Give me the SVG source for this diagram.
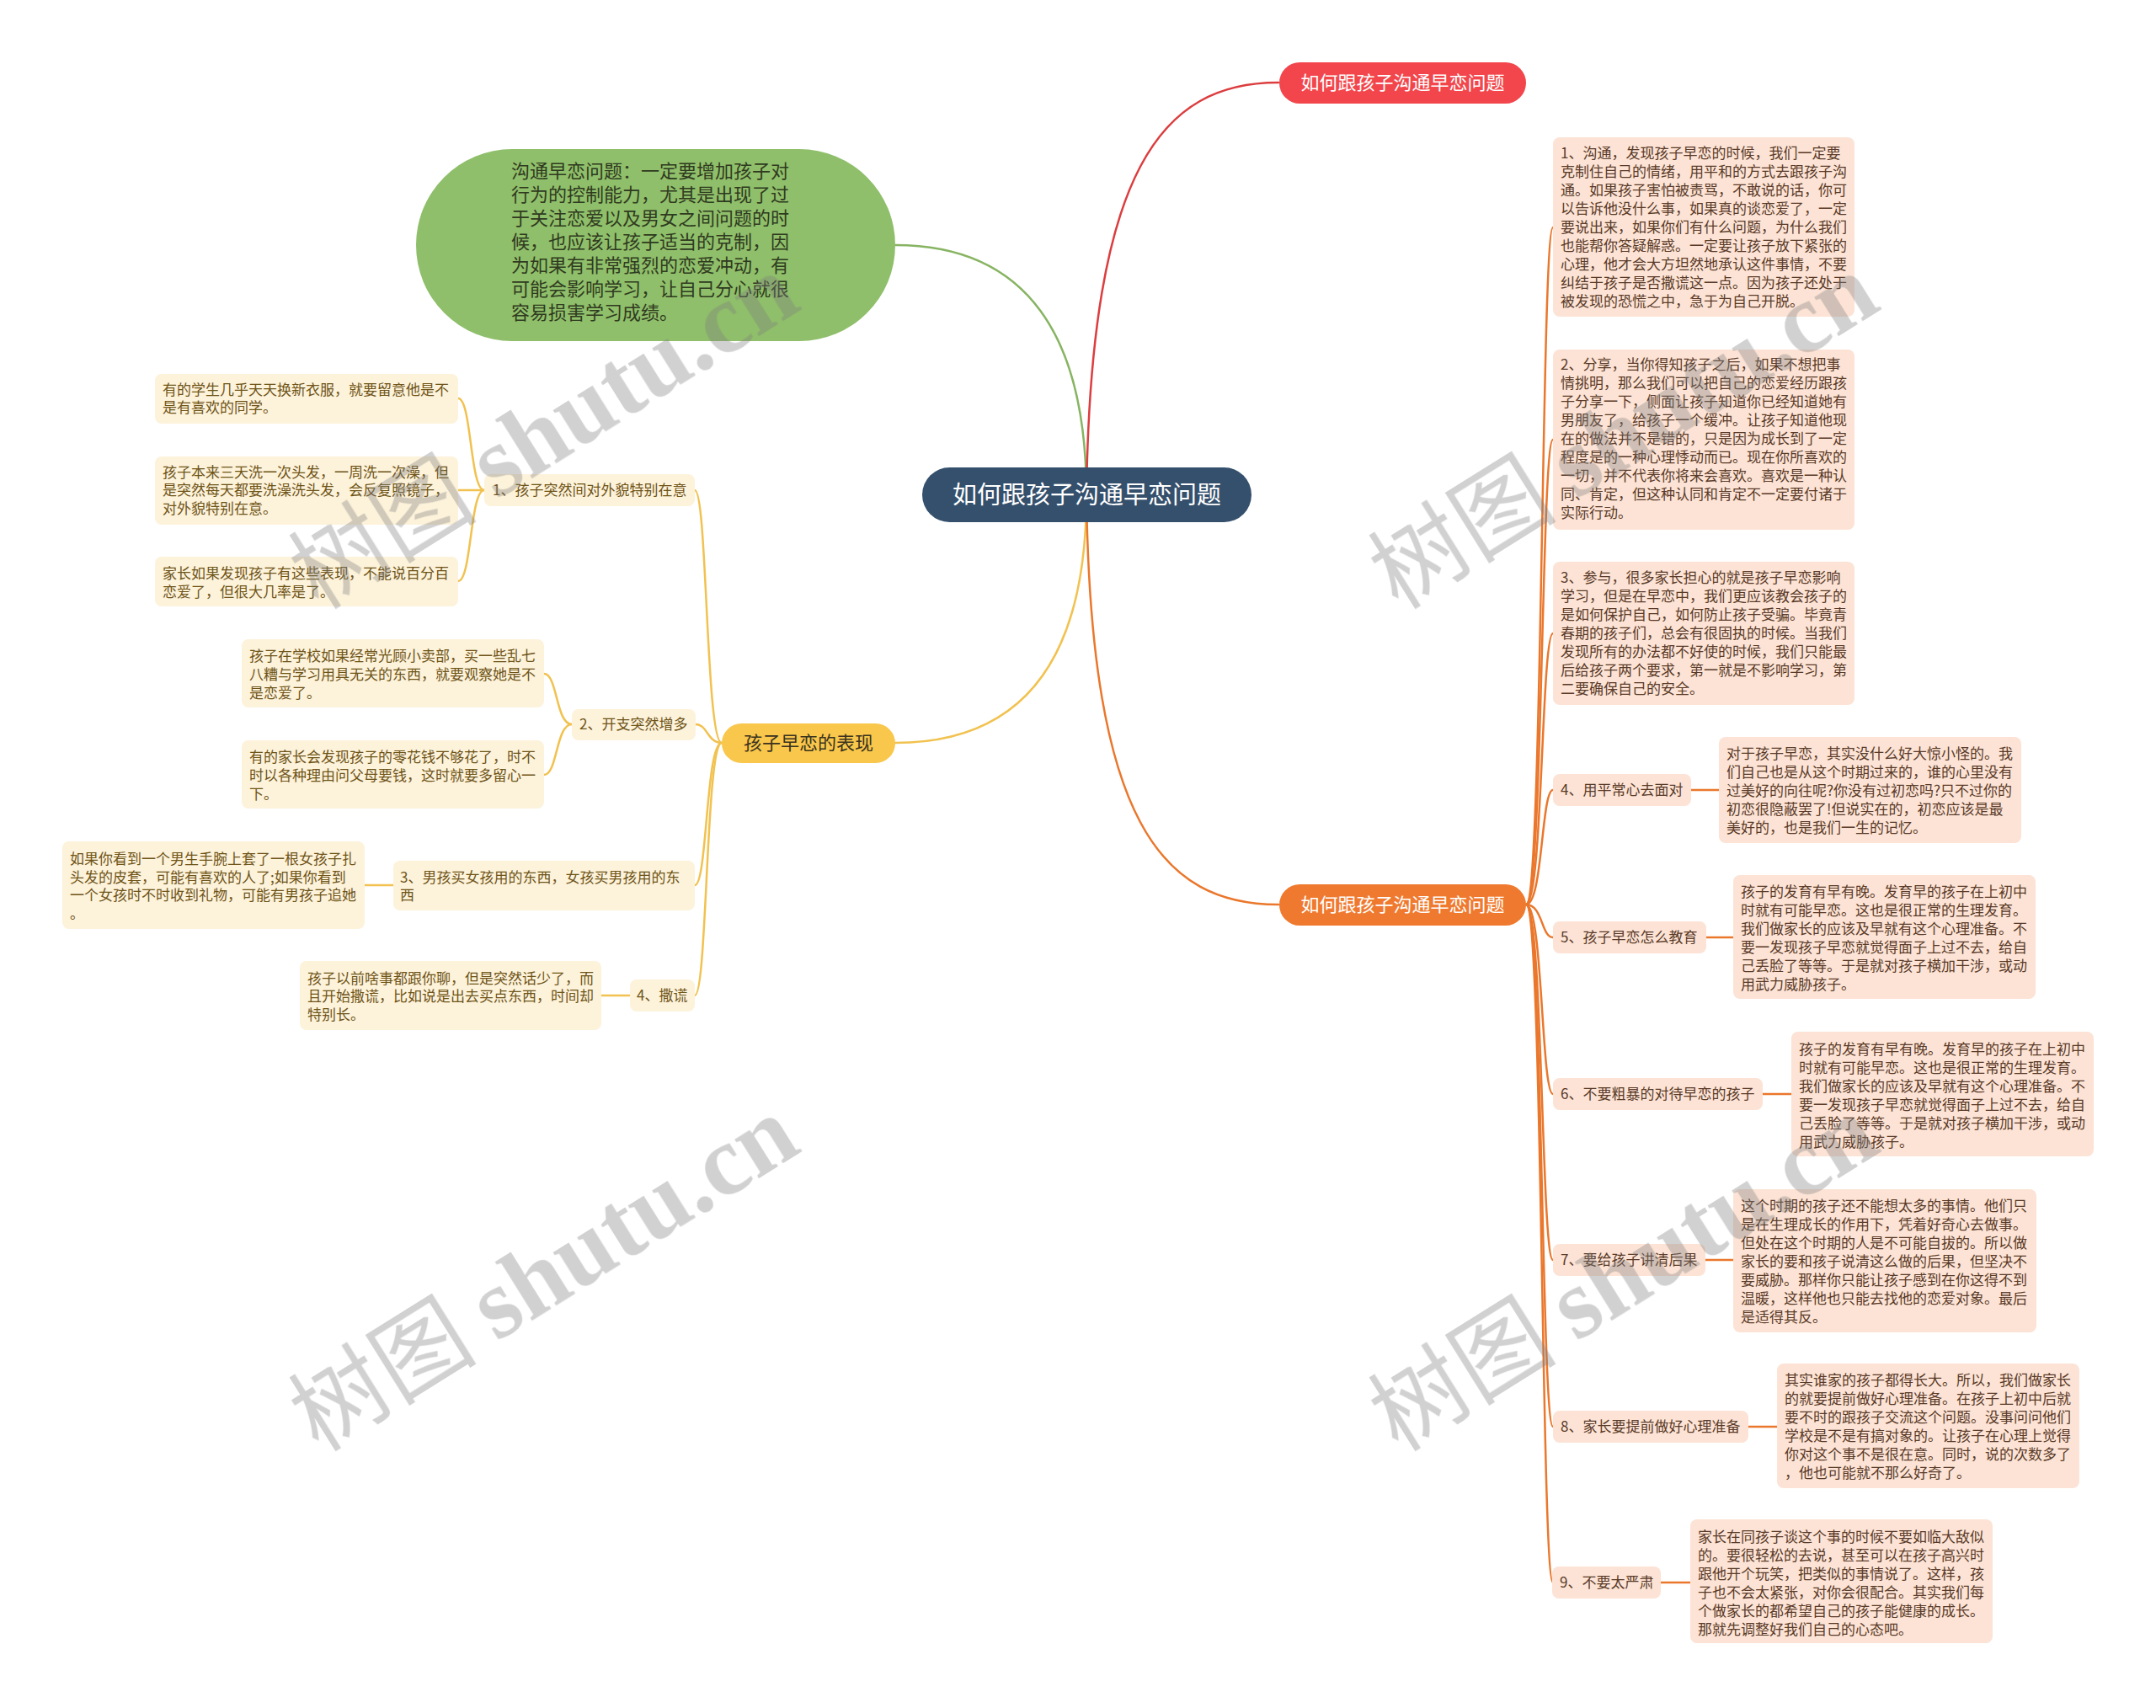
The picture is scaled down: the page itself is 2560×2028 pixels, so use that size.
<svg xmlns="http://www.w3.org/2000/svg" width="2560" height="2028" viewBox="0 0 2560 2028">
<style>
text{font-family:"Noto Sans CJK SC","Liberation Sans",sans-serif}
.c{fill:none;stroke-width:2.5;stroke-linecap:round}
.cg{stroke:#87b462}.cr{stroke:#dc3d3f}.cy{stroke:#f1c250}.co{stroke:#ea772c}
.ly{fill:#fdf2da}.lo{fill:#fce3d5}
.ty{font-size:17px;fill:#6e5418}
.to{font-size:17px;fill:#5a3a28}
.wm{fill:#7f7f7f;opacity:.36}
</style>
<rect width="2560" height="2028" fill="#fff"/>
<g id="connectors">
<path class="c cg" d="M1290,588 C1290,400 1220,291 1063,291"/>
<path class="c cr" d="M1290,588 C1295,200 1380,98 1518,98"/>
<path class="c cy" d="M1290,588 C1290,776 1220,882 1063,882"/>
<path class="c co" d="M1290,588 C1295,976 1380,1074 1518,1074"/>
<path class="c cy" d="M857,882 C838,882 840,582 825,582"/>
<path class="c cy" d="M857,882 C840,882 840,860 826,860"/>
<path class="c cy" d="M857,882 C838,882 840,1051 825,1051"/>
<path class="c cy" d="M857,882 C838,882 840,1182 825,1182"/>
<path class="c cy" d="M575,582 C558,582 560,473 544,473"/>
<path class="c cy" d="M575,582 L544,582"/>
<path class="c cy" d="M575,582 C558,582 560,690 544,690"/>
<path class="c cy" d="M679,860 C660,860 662,800 646,800"/>
<path class="c cy" d="M679,860 C660,860 662,920 646,920"/>
<path class="c cy" d="M433,1051 L467,1051"/>
<path class="c cy" d="M714,1182 L748,1182"/>
<path class="c co" d="M1812,1074 C1832,1074 1830,270 1844,270"/>
<path class="c co" d="M1812,1074 C1832,1074 1830,522 1844,522"/>
<path class="c co" d="M1812,1074 C1832,1074 1830,752 1844,752"/>
<path class="c co" d="M1812,1074 C1832,1074 1830,938 1844,938"/>
<path class="c co" d="M1812,1074 C1832,1074 1830,1113 1844,1113"/>
<path class="c co" d="M1812,1074 C1832,1074 1830,1299 1844,1299"/>
<path class="c co" d="M1812,1074 C1832,1074 1830,1496 1844,1496"/>
<path class="c co" d="M1812,1074 C1832,1074 1830,1694 1844,1694"/>
<path class="c co" d="M1812,1074 C1832,1074 1830,1879 1844,1879"/>
<path class="c co" d="M2008,938 L2041,938"/>
<path class="c co" d="M2026,1113 L2058,1113"/>
<path class="c co" d="M2093,1299 L2127,1299"/>
<path class="c co" d="M2025,1496 L2058,1496"/>
<path class="c co" d="M2076,1694 L2110,1694"/>
<path class="c co" d="M1972,1879 L2007,1879"/>
</g>
<g id="root">
<rect x="1095" y="555" width="391" height="65" rx="32.5" fill="#35506c"/>
<text x="1290.5" y="598" font-size="29" fill="#fff" text-anchor="middle">如何跟孩子沟通早恋问题</text>
</g>
<g id="red-topic">
<rect x="1519" y="74" width="293" height="49" rx="24.5" fill="#f2464c"/>
<text x="1665.5" y="106" font-size="22" fill="#fff" text-anchor="middle">如何跟孩子沟通早恋问题</text>
</g>
<g id="orange-topic">
<rect x="1519" y="1050" width="293" height="49" rx="24.5" fill="#ef7a2f"/>
<text x="1665.5" y="1082" font-size="22" fill="#fff" text-anchor="middle">如何跟孩子沟通早恋问题</text>
</g>
<g id="green-topic">
<rect x="494" y="177" width="569" height="228" rx="114" fill="#8fbf6a"/>
<text font-size="22" fill="#2f3a20">
<tspan x="607" y="211">沟通早恋问题：一定要增加孩子对</tspan>
<tspan x="607" y="239">行为的控制能力，尤其是出现了过</tspan>
<tspan x="607" y="267">于关注恋爱以及男女之间问题的时</tspan>
<tspan x="607" y="295">候，也应该让孩子适当的克制，因</tspan>
<tspan x="607" y="323">为如果有非常强烈的恋爱冲动，有</tspan>
<tspan x="607" y="351">可能会影响学习，让自己分心就很</tspan>
<tspan x="607" y="379">容易损害学习成绩。</tspan>
</text>
</g>
<g id="yellow-topic">
<rect x="857" y="859" width="206" height="47" rx="23.5" fill="#f8c74b"/>
<text x="960" y="890" font-size="22" fill="#3b3320" text-anchor="middle">孩子早恋的表现</text>
</g>
<g id="y-label1">
<rect class="ly" x="575" y="563" width="250" height="38" rx="8"/>
<text class="ty" x="585" y="588">1、孩子突然间对外貌特别在意</text>
</g>
<g id="y-leaf1a">
<rect class="ly" x="184" y="444" width="360" height="59" rx="8"/>
<text class="ty"><tspan x="193" y="469">有的学生几乎天天换新衣服，就要留意他是不</tspan><tspan x="193" y="490">是有喜欢的同学。</tspan></text>
</g>
<g id="y-leaf1b">
<rect class="ly" x="184" y="542" width="360" height="81" rx="8"/>
<text class="ty"><tspan x="193" y="567">孩子本来三天洗一次头发，一周洗一次澡，但</tspan><tspan x="193" y="588">是突然每天都要洗澡洗头发，会反复照镜子，</tspan><tspan x="193" y="610">对外貌特别在意。</tspan></text>
</g>
<g id="y-leaf1c">
<rect class="ly" x="184" y="661" width="360" height="59" rx="8"/>
<text class="ty"><tspan x="193" y="687">家长如果发现孩子有这些表现，不能说百分百</tspan><tspan x="193" y="709">恋爱了，但很大几率是了。</tspan></text>
</g>
<g id="y-label2">
<rect class="ly" x="679" y="842" width="147" height="37" rx="8"/>
<text class="ty" x="688" y="866">2、开支突然增多</text>
</g>
<g id="y-leaf2a">
<rect class="ly" x="287" y="759" width="359" height="81" rx="8"/>
<text class="ty"><tspan x="296" y="785">孩子在学校如果经常光顾小卖部，买一些乱七</tspan><tspan x="296" y="807">八糟与学习用具无关的东西，就要观察她是不</tspan><tspan x="296" y="829">是恋爱了。</tspan></text>
</g>
<g id="y-leaf2b">
<rect class="ly" x="287" y="879" width="359" height="81" rx="8"/>
<text class="ty"><tspan x="296" y="905">有的家长会发现孩子的零花钱不够花了，时不</tspan><tspan x="296" y="927">时以各种理由问父母要钱，这时就要多留心一</tspan><tspan x="296" y="949">下。</tspan></text>
</g>
<g id="y-label3">
<rect class="ly" x="467" y="1022" width="358" height="59" rx="8"/>
<text class="ty"><tspan x="475" y="1048">3、男孩买女孩用的东西，女孩买男孩用的东</tspan><tspan x="475" y="1069">西</tspan></text>
</g>
<g id="y-leaf3">
<rect class="ly" x="74" y="999" width="359" height="104" rx="8"/>
<text class="ty"><tspan x="83" y="1026">如果你看到一个男生手腕上套了一根女孩子扎</tspan><tspan x="83" y="1048">头发的皮套，可能有喜欢的人了;如果你看到</tspan><tspan x="83" y="1069">一个女孩时不时收到礼物，可能有男孩子追她</tspan><tspan x="83" y="1091">。</tspan></text>
</g>
<g id="y-label4">
<rect class="ly" x="748" y="1163" width="77" height="38" rx="8"/>
<text class="ty" x="756" y="1188">4、撒谎</text>
</g>
<g id="y-leaf4">
<rect class="ly" x="356" y="1141" width="358" height="82" rx="8"/>
<text class="ty"><tspan x="365" y="1168">孩子以前啥事都跟你聊，但是突然话少了，而</tspan><tspan x="365" y="1189">且开始撒谎，比如说是出去买点东西，时间却</tspan><tspan x="365" y="1211">特别长。</tspan></text>
</g>
<g id="o-leaf1">
<rect class="lo" x="1844" y="163" width="358" height="213" rx="8"/>
<text class="to"><tspan x="1853" y="188">1、沟通，发现孩子早恋的时候，我们一定要</tspan><tspan x="1853" y="210">克制住自己的情绪，用平和的方式去跟孩子沟</tspan><tspan x="1853" y="232">通。如果孩子害怕被责骂，不敢说的话，你可</tspan><tspan x="1853" y="254">以告诉他没什么事，如果真的谈恋爱了，一定</tspan><tspan x="1853" y="276">要说出来，如果你们有什么问题，为什么我们</tspan><tspan x="1853" y="298">也能帮你答疑解惑。一定要让孩子放下紧张的</tspan><tspan x="1853" y="320">心理，他才会大方坦然地承认这件事情，不要</tspan><tspan x="1853" y="342">纠结于孩子是否撒谎这一点。因为孩子还处于</tspan><tspan x="1853" y="364">被发现的恐慌之中，急于为自己开脱。</tspan></text>
</g>
<g id="o-leaf2">
<rect class="lo" x="1844" y="415" width="358" height="214" rx="8"/>
<text class="to"><tspan x="1853" y="439">2、分享，当你得知孩子之后，如果不想把事</tspan><tspan x="1853" y="461">情挑明，那么我们可以把自己的恋爱经历跟孩</tspan><tspan x="1853" y="483">子分享一下，侧面让孩子知道你已经知道她有</tspan><tspan x="1853" y="505">男朋友了，给孩子一个缓冲。让孩子知道他现</tspan><tspan x="1853" y="527">在的做法并不是错的，只是因为成长到了一定</tspan><tspan x="1853" y="549">程度是的一种心理悸动而已。现在你所喜欢的</tspan><tspan x="1853" y="571">一切，并不代表你将来会喜欢。喜欢是一种认</tspan><tspan x="1853" y="593">同、肯定，但这种认同和肯定不一定要付诸于</tspan><tspan x="1853" y="615">实际行动。</tspan></text>
</g>
<g id="o-leaf3">
<rect class="lo" x="1844" y="667" width="358" height="170" rx="8"/>
<text class="to"><tspan x="1853" y="692">3、参与，很多家长担心的就是孩子早恋影响</tspan><tspan x="1853" y="714">学习，但是在早恋中，我们更应该教会孩子的</tspan><tspan x="1853" y="736">是如何保护自己，如何防止孩子受骗。毕竟青</tspan><tspan x="1853" y="758">春期的孩子们，总会有很固执的时候。当我们</tspan><tspan x="1853" y="780">发现所有的办法都不好使的时候，我们只能最</tspan><tspan x="1853" y="802">后给孩子两个要求，第一就是不影响学习，第</tspan><tspan x="1853" y="824">二要确保自己的安全。</tspan></text>
</g>
<g id="o-label4">
<rect class="lo" x="1844" y="919" width="164" height="38" rx="8"/>
<text class="to" x="1853" y="944">4、用平常心去面对</text>
</g>
<g id="o-leaf4">
<rect class="lo" x="2041" y="875" width="359" height="126" rx="8"/>
<text class="to"><tspan x="2050" y="901">对于孩子早恋，其实没什么好大惊小怪的。我</tspan><tspan x="2050" y="923">们自己也是从这个时期过来的，谁的心里没有</tspan><tspan x="2050" y="945">过美好的向往呢?你没有过初恋吗?只不过你的</tspan><tspan x="2050" y="967">初恋很隐蔽罢了!但说实在的，初恋应该是最</tspan><tspan x="2050" y="989">美好的，也是我们一生的记忆。</tspan></text>
</g>
<g id="o-label5">
<rect class="lo" x="1844" y="1094" width="182" height="38" rx="8"/>
<text class="to" x="1853" y="1119">5、孩子早恋怎么教育</text>
</g>
<g id="o-leaf5">
<rect class="lo" x="2058" y="1039" width="359" height="147" rx="8"/>
<text class="to"><tspan x="2067" y="1065">孩子的发育有早有晚。发育早的孩子在上初中</tspan><tspan x="2067" y="1087">时就有可能早恋。这也是很正常的生理发育。</tspan><tspan x="2067" y="1109">我们做家长的应该及早就有这个心理准备。不</tspan><tspan x="2067" y="1131">要一发现孩子早恋就觉得面子上过不去，给自</tspan><tspan x="2067" y="1153">己丢脸了等等。于是就对孩子横加干涉，或动</tspan><tspan x="2067" y="1175">用武力威胁孩子。</tspan></text>
</g>
<g id="o-label6">
<rect class="lo" x="1844" y="1280" width="249" height="38" rx="8"/>
<text class="to" x="1853" y="1305">6、不要粗暴的对待早恋的孩子</text>
</g>
<g id="o-leaf6">
<rect class="lo" x="2127" y="1225" width="359" height="148" rx="8"/>
<text class="to"><tspan x="2136" y="1252">孩子的发育有早有晚。发育早的孩子在上初中</tspan><tspan x="2136" y="1274">时就有可能早恋。这也是很正常的生理发育。</tspan><tspan x="2136" y="1296">我们做家长的应该及早就有这个心理准备。不</tspan><tspan x="2136" y="1318">要一发现孩子早恋就觉得面子上过不去，给自</tspan><tspan x="2136" y="1340">己丢脸了等等。于是就对孩子横加干涉，或动</tspan><tspan x="2136" y="1362">用武力威胁孩子。</tspan></text>
</g>
<g id="o-label7">
<rect class="lo" x="1844" y="1477" width="181" height="38" rx="8"/>
<text class="to" x="1853" y="1502">7、要给孩子讲清后果</text>
</g>
<g id="o-leaf7">
<rect class="lo" x="2058" y="1412" width="360" height="170" rx="8"/>
<text class="to"><tspan x="2067" y="1438">这个时期的孩子还不能想太多的事情。他们只</tspan><tspan x="2067" y="1460">是在生理成长的作用下，凭着好奇心去做事。</tspan><tspan x="2067" y="1482">但处在这个时期的人是不可能自拔的。所以做</tspan><tspan x="2067" y="1504">家长的要和孩子说清这么做的后果，但坚决不</tspan><tspan x="2067" y="1526">要威胁。那样你只能让孩子感到在你这得不到</tspan><tspan x="2067" y="1548">温暖，这样他也只能去找他的恋爱对象。最后</tspan><tspan x="2067" y="1570">是适得其反。</tspan></text>
</g>
<g id="o-label8">
<rect class="lo" x="1844" y="1675" width="232" height="38" rx="8"/>
<text class="to" x="1853" y="1700">8、家长要提前做好心理准备</text>
</g>
<g id="o-leaf8">
<rect class="lo" x="2110" y="1619" width="359" height="148" rx="8"/>
<text class="to"><tspan x="2119" y="1645">其实谁家的孩子都得长大。所以，我们做家长</tspan><tspan x="2119" y="1667">的就要提前做好心理准备。在孩子上初中后就</tspan><tspan x="2119" y="1689">要不时的跟孩子交流这个问题。没事问问他们</tspan><tspan x="2119" y="1711">学校是不是有搞对象的。让孩子在心理上觉得</tspan><tspan x="2119" y="1733">你对这个事不是很在意。同时，说的次数多了</tspan><tspan x="2119" y="1755">，他也可能就不那么好奇了。</tspan></text>
</g>
<g id="o-label9">
<rect class="lo" x="1843" y="1860" width="129" height="38" rx="8"/>
<text class="to" x="1852" y="1885">9、不要太严肃</text>
</g>
<g id="o-leaf9">
<rect class="lo" x="2007" y="1804" width="359" height="147" rx="8"/>
<text class="to"><tspan x="2016" y="1831">家长在同孩子谈这个事的时候不要如临大敌似</tspan><tspan x="2016" y="1853">的。要很轻松的去说，甚至可以在孩子高兴时</tspan><tspan x="2016" y="1875">跟他开个玩笑，把类似的事情说了。这样，孩</tspan><tspan x="2016" y="1897">子也不会太紧张，对你会很配合。其实我们每</tspan><tspan x="2016" y="1919">个做家长的都希望自己的孩子能健康的成长。</tspan><tspan x="2016" y="1941">那就先调整好我们自己的心态吧。</tspan></text>
</g>
<g id="watermarks" class="wm">
<text transform="translate(645,512) rotate(-32)" x="0" y="40" text-anchor="middle"><tspan font-size="112">树图 </tspan><tspan font-size="118" font-weight="bold" font-family="Liberation Serif,serif">shutu.cn</tspan></text>
<text transform="translate(645,1512) rotate(-32)" x="0" y="40" text-anchor="middle"><tspan font-size="112">树图 </tspan><tspan font-size="118" font-weight="bold" font-family="Liberation Serif,serif">shutu.cn</tspan></text>
<text transform="translate(1927,512) rotate(-32)" x="0" y="40" text-anchor="middle"><tspan font-size="112">树图 </tspan><tspan font-size="118" font-weight="bold" font-family="Liberation Serif,serif">shutu.cn</tspan></text>
<text transform="translate(1927,1512) rotate(-32)" x="0" y="40" text-anchor="middle"><tspan font-size="112">树图 </tspan><tspan font-size="118" font-weight="bold" font-family="Liberation Serif,serif">shutu.cn</tspan></text>
</g>
</svg>
